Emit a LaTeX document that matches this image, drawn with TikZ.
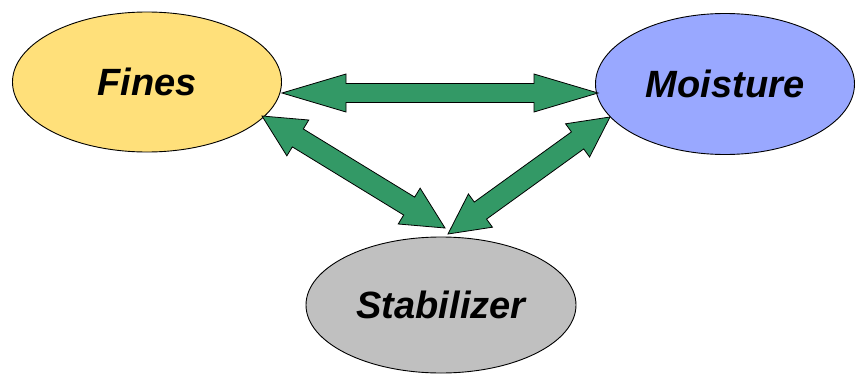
\documentclass[tikz,border=0pt]{standalone}
\usepackage{fontspec}
\setmainfont{Liberation Sans}
\usetikzlibrary{shapes.geometric,calc}
\definecolor{fyellow}{RGB}{255,224,122}
\definecolor{mblue}{RGB}{153,168,255}
\definecolor{sgray}{RGB}{192,192,192}
\definecolor{agreen}{RGB}{51,153,102}
\tikzset{
  blob/.style={ellipse, draw=black, line width=0.9pt, inner sep=0pt,
    font=\fontsize{38}{42}\selectfont\bfseries\itshape},
  arr/.style={draw=black, fill=agreen, line width=0.8pt, line join=miter}
}
% #1,#2 tips, #3 head length, #4 half head width, #5 half shaft width
\newcommand\dblarr[5]{%
  \draw[arr] (#1)
    -- ($($(#1)!#3!(#2)$)!#4!90:(#2)$)
    -- ($($(#1)!#3!(#2)$)!#5!90:(#2)$)
    -- ($($(#2)!#3!(#1)$)!#5!-90:(#1)$)
    -- ($($(#2)!#3!(#1)$)!#4!-90:(#1)$)
    -- (#2)
    -- ($($(#2)!#3!(#1)$)!#4!90:(#1)$)
    -- ($($(#2)!#3!(#1)$)!#5!90:(#1)$)
    -- ($($(#1)!#3!(#2)$)!#5!-90:(#2)$)
    -- ($($(#1)!#3!(#2)$)!#4!-90:(#2)$)
    -- cycle;}
\begin{document}
\begin{tikzpicture}[x=1pt,y=-1pt]
\useasboundingbox[fill=white] (0,0) rectangle (855,375);
\node[blob, fill=fyellow, minimum width=269pt, minimum height=140pt] (fines) at (147,82) {\raisebox{-2pt}{Fines}};
\node[blob, fill=mblue, minimum width=259pt, minimum height=141pt] (moist) at (725,84) {\raisebox{-1pt}{Moisture}};
\node[blob, fill=sgray, minimum width=270pt, minimum height=136pt] (stab) at (441,305) {\raisebox{-2pt}{Stabilizer}};
\coordinate (fR) at (282,93);
\coordinate (mL) at (598,93);
\coordinate (fD) at (262,116);
\coordinate (sL) at (445,228);
\coordinate (mD) at (610,117);
\coordinate (sR) at (448,234);
\dblarr{fR}{mL}{64pt}{19pt}{9.5pt}
\dblarr{fD}{sL}{42pt}{21pt}{10.5pt}
\dblarr{mD}{sR}{40pt}{20.5pt}{10.5pt}
\end{tikzpicture}
\end{document}
